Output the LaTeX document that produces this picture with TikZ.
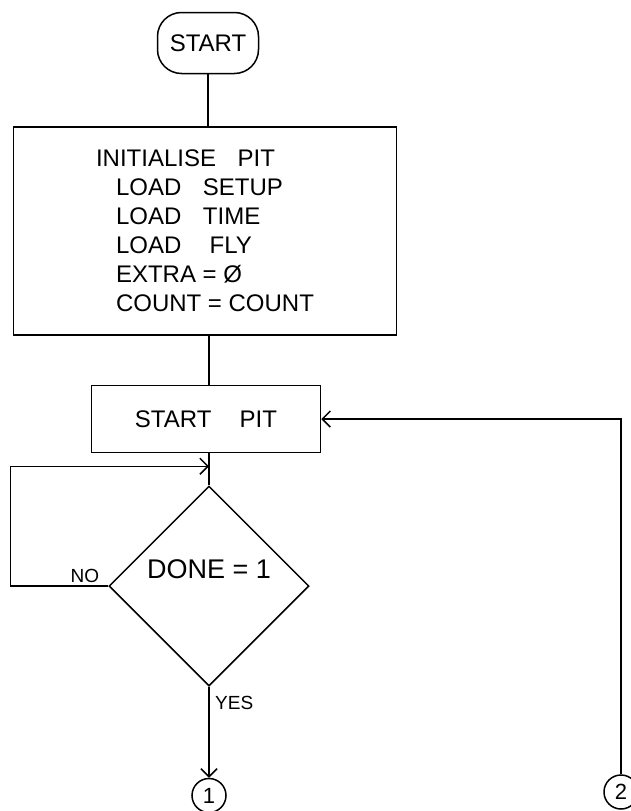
\documentclass[tikz,border=0pt]{standalone}
\usepackage{fontspec}
\setmainfont{Liberation Sans}
\usepackage{tikz}
\usetikzlibrary{positioning, arrows.meta, shapes.geometric}
\tikzset{
  fbox/.style={draw, line width=1.5pt, align=left, inner sep=0pt, font=\fontsize{24}{29}\selectfont},
  term/.style={fbox, rounded corners=24pt, minimum width=101pt, minimum height=61pt, align=center},
  proc/.style={fbox},
  decision/.style={fbox, diamond, align=center, minimum width=200pt, minimum height=200pt, text height=20pt, text depth=36pt, font=\fontsize{27}{30}\selectfont},
  conn/.style={draw, circle, line width=1.5pt, minimum size=34pt, inner sep=0pt, font=\fontsize{22}{24}\selectfont},
  lbl/.style={inner sep=0pt, font=\fontsize{19}{22}\selectfont},
  ln/.style={line width=1.5pt},
  arr/.style={ln, -{Straight Barb[length=8pt, width=16pt, line width=1.5pt]}},
}
\newcommand{\gap}{\hspace{0.9em}}
\newcommand{\ind}{\hspace*{20pt}}

\begin{document}
\begin{tikzpicture}[x=1pt, y=-1pt]
\useasboundingbox (0,0) rectangle (631,811);
\node[term] (start) at (208,43) {START};
\node[proc, minimum width=383pt, minimum height=208pt, below=52pt of start, xshift=-3pt] (init)
  {INITIALISE\gap PIT\\ \ind LOAD\gap SETUP\\ \ind LOAD\gap TIME\\ \ind LOAD\gap\ FLY\\ \ind EXTRA = \O\\ \ind COUNT = COUNT};
\node[proc, minimum width=229pt, minimum height=67pt, below=49pt of init, xshift=1pt] (pit) {START\gap\ PIT};
\node[decision, below=32pt of pit, xshift=3pt] (done) {DONE = 1};
\coordinate[below=13pt of pit.south, xshift=3pt] (loop);
\node[lbl, above left=3pt and 9pt of done.west] (no) {NO};
\node[lbl, below right=9pt and 6pt of done.south] (yes) {YES};
\node[conn, below=91pt of done] (c1) {1};
\node[conn] (c2) at (621,792) {2};
\draw[ln] (start) -- (start |- init.north);
\draw[ln] (init.south -| done) -- (pit.north -| done);
\draw[ln] (pit.south -| done) -- (done);
\draw[arr] (done.west) -- ++(-98pt,0) |- (loop);
\draw[arr] (done) -- (c1);
\draw[arr] (c2) |- (pit);
\end{tikzpicture}
\end{document}
